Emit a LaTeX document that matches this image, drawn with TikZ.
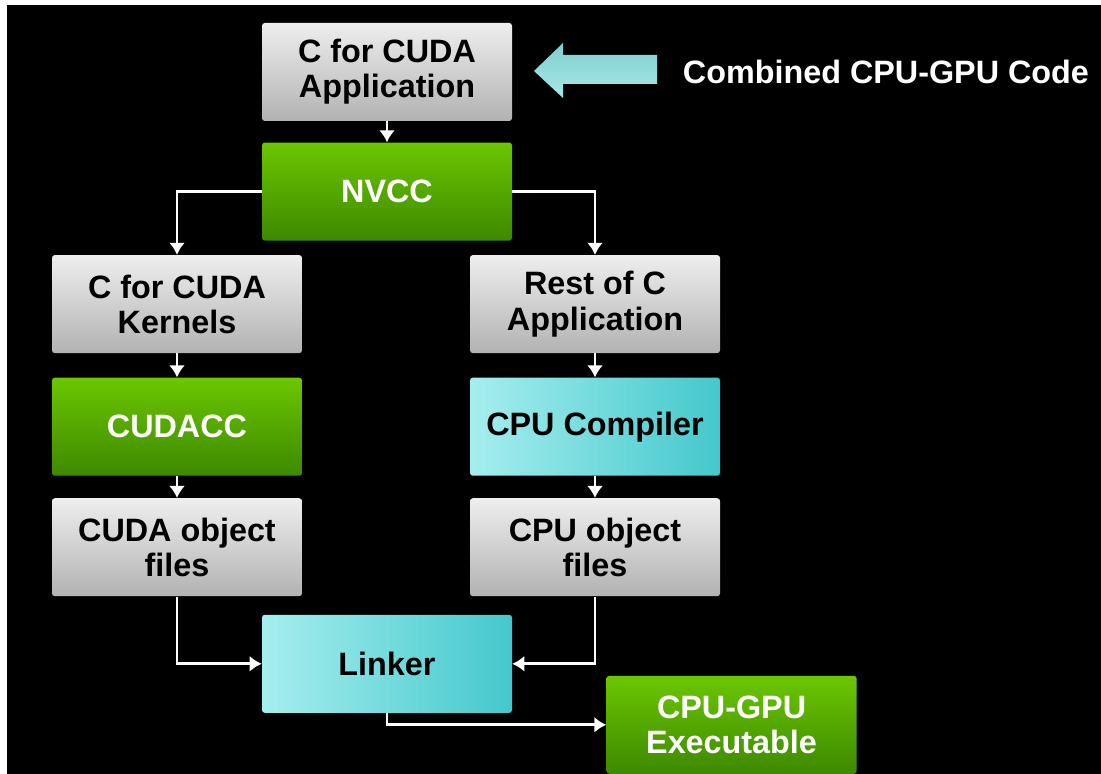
\documentclass[tikz,border=0pt]{standalone}
\usepackage{fontspec}
\setmainfont{Liberation Sans}
\usepackage{xcolor}
\definecolor{grayTop}{HTML}{EEEEEE}
\definecolor{grayBot}{HTML}{B2B2B2}
\definecolor{greenTop}{HTML}{6CC600}
\definecolor{greenBot}{HTML}{3D8900}
\definecolor{cyanLeft}{HTML}{A6EEEE}
\definecolor{cyanRight}{HTML}{44C8CC}
\definecolor{arrowTop}{HTML}{7FCFCF}
\definecolor{arrowBot}{HTML}{A8E8E6}
\usepackage{tikz}
\usetikzlibrary{positioning,arrows.meta}
\tikzset{%
  stageBox/.style={%
    rectangle,
    rounded corners=2pt,
    minimum width=6.25cm,
    minimum height=2.45cm,
    inner sep=0pt,
    align=center,
    font=\fontsize{23}{25}\selectfont\bfseries
  },
  grayBox/.style={%
    stageBox,
    top color=grayTop,
    bottom color=grayBot,
    text=black
  },
  greenBox/.style={%
    stageBox,
    top color=greenTop,
    bottom color=greenBot,
    text=white
  },
  cyanBox/.style={%
    stageBox,
    left color=cyanLeft,
    right color=cyanRight,
    text=black
  },
  flowArrow/.style={%
    -{Latex[length=3mm,width=4mm]},
    line width=0.07cm,
    color=white
  }
}

\begin{document}
\begin{tikzpicture}
  % background with the thin white margin
  \fill[white] (0,0) rectangle (27.525,19.35);
  \fill[black] (0.175,0) rectangle (27.525,19.225);
  \useasboundingbox (0,0) rectangle (27.525,19.35);

  \node[grayBox] (app) at (9.675,17.55) {C for CUDA\\Application};
  \node[greenBox, below=0.525cm of app] (nvcc) {NVCC};

  \node[grayBox, below=0.35cm of nvcc, xshift=-5.25cm] (kernels) {C for CUDA\\Kernels};
  \node[greenBox, below=0.6cm of kernels] (cudacc) {CUDACC};
  \node[grayBox, below=0.55cm of cudacc] (cudaobj) {CUDA object\\files};

  \node[grayBox, below=0.35cm of nvcc, xshift=5.2cm] (restc) {Rest of C\\Application};
  \node[cyanBox, below=0.6cm of restc] (cpucomp) {CPU Compiler};
  \node[grayBox, below=0.55cm of cpucomp] (cpuobj) {CPU object\\files};

  \node[cyanBox, below=0.45cm of cudaobj, xshift=5.25cm] (linker) {Linker};
  \node[greenBox, right=2.35cm of linker, yshift=-1.525cm] (exe) {CPU-GPU\\Executable};

  % label and its big arrow
  \node[anchor=west, text=white, font=\fontsize{23}{25}\selectfont\bfseries] (combined) at (16.95,17.54) {Combined CPU-GPU Code};
  \fill[top color=arrowTop, bottom color=arrowBot]
    (13.35,17.575) -- (14.075,18.275) -- (14.075,17.975) -- (16.425,17.975)
    -- (16.425,17.25) -- (14.075,17.25) -- (14.075,16.9) -- cycle;

  \draw[flowArrow] (app) -- (nvcc);
  \draw[flowArrow] (nvcc.west) -| (kernels.north);
  \draw[flowArrow] (nvcc.east) -| (restc.north);
  \draw[flowArrow] (kernels) -- (cudacc);
  \draw[flowArrow] (cudacc) -- (cudaobj);
  \draw[flowArrow] (restc) -- (cpucomp);
  \draw[flowArrow] (cpucomp) -- (cpuobj);
  \draw[flowArrow] (cudaobj.south) |- (linker.west);
  \draw[flowArrow] (cpuobj.south) |- (linker.east);
  \draw[flowArrow] (linker.south) |- (exe.west);
\end{tikzpicture}
\end{document}
